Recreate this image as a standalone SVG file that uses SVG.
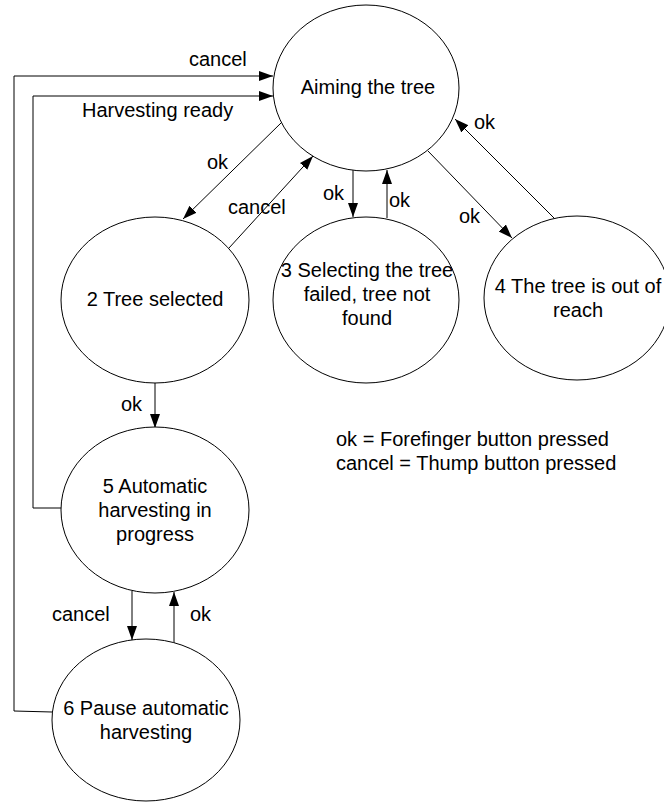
<svg xmlns="http://www.w3.org/2000/svg" width="664" height="802" viewBox="0 0 664 802">
  <style>
    .state { fill: #ffffff; stroke: #000000; stroke-width: 1; }
    .label { font-family: "Liberation Sans", Arial, sans-serif; font-size: 20px; fill: #000000; }
    .mid { text-anchor: middle; }
    .edge { fill: none; stroke: #000000; stroke-width: 1; marker-end: url(#arrow); }
  </style>
  <defs>
    <marker id="arrow" markerUnits="userSpaceOnUse" markerWidth="15" markerHeight="11" refX="14" refY="5" orient="auto">
      <path d="M0,0 L14,5 L0,10 Z" fill="#000000"/>
    </marker>
  </defs>
  <rect x="0" y="0" width="664" height="802" fill="#ffffff"/>

  <!-- transitions -->
  <g id="connectors">
    <polyline class="edge" points="52,712 14,711 14,76 273,76"/>
    <polyline class="edge" points="61,508 33,508 33,96 273,96"/>
    <line class="edge" x1="281" y1="123" x2="183" y2="219"/>
    <line class="edge" x1="229" y1="248" x2="313" y2="156"/>
    <line class="edge" x1="353" y1="170" x2="353" y2="217"/>
    <line class="edge" x1="387" y1="218" x2="387" y2="170"/>
    <line class="edge" x1="428" y1="151" x2="512" y2="238"/>
    <line class="edge" x1="555" y1="219" x2="455" y2="119"/>
    <line class="edge" x1="155" y1="382" x2="155" y2="428"/>
    <line class="edge" x1="132" y1="591" x2="132" y2="640"/>
    <line class="edge" x1="174" y1="643" x2="174" y2="592"/>

    <text class="label" x="189" y="66">cancel</text>
    <text class="label" x="82" y="117">Harvesting ready</text>
    <text class="label" x="207" y="169">ok</text>
    <text class="label" x="228" y="214">cancel</text>
    <text class="label" x="323" y="200">ok</text>
    <text class="label" x="389" y="207">ok</text>
    <text class="label" x="459" y="223">ok</text>
    <text class="label" x="474" y="129">ok</text>
    <text class="label" x="121" y="411">ok</text>
    <text class="label" x="52" y="621">cancel</text>
    <text class="label" x="190" y="621">ok</text>
  </g>

  <g id="state-aiming">
    <ellipse class="state" cx="366" cy="88" rx="93" ry="83"/>
    <text class="label mid" x="368" y="94">Aiming the tree</text>
  </g>

  <g id="state-2">
    <ellipse class="state" cx="155" cy="300" rx="94" ry="83"/>
    <text class="label mid" x="155" y="306">2 Tree selected</text>
  </g>

  <g id="state-3">
    <ellipse class="state" cx="366" cy="300" rx="93" ry="83"/>
    <text class="label mid" x="367" y="277">3 Selecting the tree</text>
    <text class="label mid" x="367" y="301">failed, tree not</text>
    <text class="label mid" x="367" y="325">found</text>
  </g>

  <g id="state-4">
    <ellipse class="state" cx="577" cy="298" rx="93" ry="82"/>
    <text class="label mid" x="578" y="293">4 The tree is out of</text>
    <text class="label mid" x="578" y="317">reach</text>
  </g>

  <g id="state-5">
    <ellipse class="state" cx="155" cy="510" rx="94" ry="83"/>
    <text class="label mid" x="155" y="493">5 Automatic</text>
    <text class="label mid" x="155" y="517">harvesting in</text>
    <text class="label mid" x="155" y="541">progress</text>
  </g>

  <g id="state-6">
    <ellipse class="state" cx="146" cy="720" rx="94" ry="81"/>
    <text class="label mid" x="146" y="715">6 Pause automatic</text>
    <text class="label mid" x="146" y="739">harvesting</text>
  </g>

  <g id="legend">
    <text class="label" x="336" y="446">ok = Forefinger button pressed</text>
    <text class="label" x="336" y="470">cancel = Thump button pressed</text>
  </g>
</svg>
